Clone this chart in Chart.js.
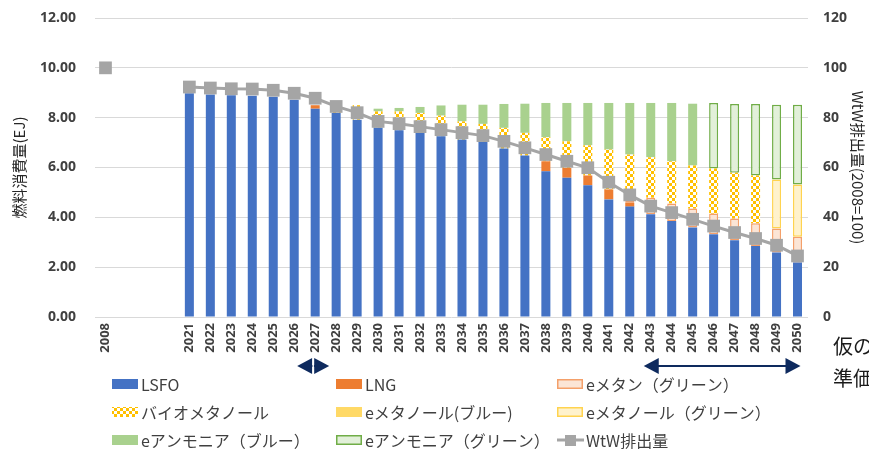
<!DOCTYPE html>
<html>
<head>
<meta charset="utf-8">
<script src="https://cdn.jsdelivr.net/npm/chart.js@4.4.0/dist/chart.umd.min.js"></script>
<style>
  html, body { margin: 0; padding: 0; background: #fff; }
  #wrap { width: 869px; height: 449px; position: relative; }
</style>
</head>
<body>
<div id="wrap"><canvas id="chart" width="869" height="449"></canvas></div>
<script>
// categories (2008, three empty slots, 2021-2050)
const years = ['2008', '', '', '',
  '2021','2022','2023','2024','2025','2026','2027','2028','2029','2030',
  '2031','2032','2033','2034','2035','2036','2037','2038','2039','2040',
  '2041','2042','2043','2044','2045','2046','2047','2048','2049','2050'];

// fuel consumption (EJ), values for 2021-2050
const lsfo = [8.98,8.93,8.90,8.88,8.84,8.72,8.36,8.19,7.92,7.61,7.49,7.39,7.25,7.12,7.02,
  6.76,6.48,5.85,5.59,5.29,4.72,4.43,4.12,3.85,3.59,3.32,3.08,2.85,2.59,2.19];
const lng = [0,0,0,0,0,0,0.14,0,0,0,0,0,0,0,0,
  0,0,0.40,0.40,0.39,0.40,0.16,0,0,0,0,0,0,0,0];
const eMethaneGreen = [0,0,0,0,0,0,0,0,0,0,0,0,0,0,0,
  0,0,0,0,0,0,0.10,0.67,0.71,0.76,0.83,0.87,0.91,0.96,1.03];
const bioMethanol = [0,0,0,0,0,0,0,0.20,0.58,0.64,0.76,0.80,0.83,0.73,0.73,
  0.83,0.91,0.96,1.06,1.21,1.60,1.83,1.62,1.69,1.73,1.81,1.84,1.92,0,0];
const eMethanolBlue = [0,0,0,0,0,0,0,0,0,0,0,0,0,0,0,
  0,0,0,0,0,0,0,0,0,0,0,0,0,0,0];
const eMethanolGreen = [0,0,0,0,0,0,0,0,0,0,0,0,0,0,0,
  0,0,0,0,0,0,0,0,0,0,0,0,0,1.97,2.10];
const eAmmoniaBlue = [0,0,0,0,0,0,0,0,0,0.11,0.14,0.24,0.41,0.67,0.77,
  0.96,1.17,1.38,1.54,1.70,1.87,2.07,2.18,2.34,2.48,0,0,0,0,0];
const eAmmoniaGreen = [0,0,0,0,0,0,0,0,0,0,0,0,0,0,0,
  0,0,0,0,0,0,0,0,0,0,2.63,2.76,2.87,3.00,3.20];

// WtW emissions (2008=100)
const wtw2008 = 100;
const wtw = [92.3,91.9,91.6,91.5,91.0,89.8,87.8,84.5,82.0,78.5,77.6,76.4,75.2,74.0,72.8,
  70.5,67.9,65.2,62.5,59.9,54.1,49.0,44.5,41.9,39.2,36.5,33.9,31.5,28.8,24.5];

const leftTicks = [0, 2, 4, 6, 8, 10, 12];
const rightTicks = [0, 20, 40, 60, 80, 100, 120];

// pad the 2021-2050 series to the full category list
const bars = arr => [null, null, null, null].concat(arr.map(v => v || null));

// yellow / white checker for the bio-methanol segments
function checker() {
  const c = document.createElement('canvas');
  c.width = 6; c.height = 6;
  const g = c.getContext('2d');
  g.fillStyle = '#ffffff';
  g.fillRect(0, 0, 6, 6);
  g.fillStyle = '#FFC000';
  g.fillRect(0, 0, 3, 3);
  g.fillRect(3, 3, 3, 3);
  return document.getElementById('chart').getContext('2d').createPattern(c, 'repeat');
}
const checkPattern = checker();

const series = [
  { label: 'LSFO', data: lsfo, bg: '#4472C4', bd: '#4472C4', bw: 0 },
  { label: 'LNG', data: lng, bg: '#ED7D31', bd: '#ED7D31', bw: 0 },
  { label: 'eメタン（グリーン）', data: eMethaneGreen, bg: '#FBE5D6', bd: '#F4A06A', bw: 1.5 },
  { label: 'バイオメタノール', data: bioMethanol, bg: checkPattern, bd: '#FFC000', bw: 0 },
  { label: 'eメタノール(ブルー)', data: eMethanolBlue, bg: '#FFD966', bd: '#FFD966', bw: 0 },
  { label: 'eメタノール（グリーン）', data: eMethanolGreen, bg: '#FFF2CC', bd: '#FFD34F', bw: 1.5 },
  { label: 'eアンモニア（ブルー）', data: eAmmoniaBlue, bg: '#A9D18E', bd: '#A9D18E', bw: 0 },
  { label: 'eアンモニア（グリーン）', data: eAmmoniaGreen, bg: '#E2F0D9', bd: '#70AD47', bw: 1.5 }
];

const datasets = series.map(s => ({
  type: 'bar',
  label: s.label,
  data: bars(s.data),
  backgroundColor: s.bg,
  borderColor: s.bd,
  borderWidth: s.bw,
  borderSkipped: false,
  yAxisID: 'y',
  stack: 'fuel',
  order: 1,
  barPercentage: 0.43,
  categoryPercentage: 1.0
}));

datasets.push({
  type: 'line',
  label: 'WtW排出量',
  data: [wtw2008, null, null, null].concat(wtw),
  yAxisID: 'y1',
  borderColor: '#A5A5A5',
  backgroundColor: '#A5A5A5',
  borderWidth: 3,
  pointStyle: 'rect',
  pointRadius: 9,
  pointBorderWidth: 0,
  spanGaps: false,
  order: 0
});

const tickColor = '#404040';

// legend, arrows and side note
const extras = {
  id: 'extras',
  afterDraw(chart) {
    const ctx = chart.ctx;
    ctx.save();
    const cols = [112, 336, 557];
    const rows = [384, 412, 440];
    const items = series.map(s => ({ label: s.label, bg: s.bg, bd: s.bd, bw: s.bw }));
    items.push({ label: 'WtW排出量', line: true });
    ctx.font = '16px "Noto Sans CJK JP"';
    ctx.textBaseline = 'middle';
    items.forEach((it, i) => {
      const x = cols[i % 3], y = rows[Math.floor(i / 3)];
      if (it.line) {
        ctx.strokeStyle = '#A5A5A5';
        ctx.lineWidth = 3;
        ctx.beginPath(); ctx.moveTo(x, y); ctx.lineTo(x + 27, y); ctx.stroke();
        ctx.fillStyle = '#A5A5A5';
        ctx.fillRect(x + 8, y - 5, 11, 11);
      } else {
        ctx.fillStyle = it.bg;
        ctx.fillRect(x, y - 5, 26, 10);
        if (it.bw) {
          ctx.strokeStyle = it.bd;
          ctx.lineWidth = 1.5;
          ctx.strokeRect(x + 0.75, y - 4.25, 24.5, 8.5);
        }
      }
      ctx.fillStyle = '#404040';
      ctx.fillText(it.label, x + 29, y + 1);
    });

    // double arrows under the axis
    const xs = chart.scales.x;
    const ay = 366;
    ctx.fillStyle = '#0E2A5E';
    ctx.strokeStyle = '#0E2A5E';
    const head = (tip, dir) => {
      ctx.beginPath();
      ctx.moveTo(tip, ay);
      ctx.lineTo(tip + dir * 15, ay - 8);
      ctx.lineTo(tip + dir * 15, ay + 8);
      ctx.closePath();
      ctx.fill();
    };
    const c1 = xs.getPixelForValue(10) - 2;
    head(c1 - 16, 1);
    head(c1 + 16, -1);
    ctx.lineWidth = 2;
    ctx.beginPath(); ctx.moveTo(c1 - 2, ay); ctx.lineTo(c1 + 2, ay); ctx.stroke();
    ctx.strokeStyle = '#ffffff';
    ctx.lineWidth = 1.5;
    ctx.beginPath(); ctx.moveTo(c1, ay - 9); ctx.lineTo(c1, ay + 9); ctx.stroke();

    const l2 = xs.getPixelForValue(26) - 7, r2 = xs.getPixelForValue(33) + 3;
    ctx.strokeStyle = '#0E2A5E';
    ctx.lineWidth = 2;
    ctx.beginPath(); ctx.moveTo(l2 + 10, ay); ctx.lineTo(r2 - 10, ay); ctx.stroke();
    head(l2, 1);
    head(r2, -1);

    // clipped side note
    ctx.fillStyle = '#1a1a1a';
    ctx.font = '20px "Noto Sans CJK JP"';
    ctx.textBaseline = 'middle';
    ctx.fillText('仮の', 833, 346);
    ctx.fillText('準価', 833, 378);
    ctx.restore();
  }
};

// fixed box sizes so the plot area lands where the original one is
const fixY = w => s => { s.width = w; s.paddingTop = 0; s.paddingBottom = 0; };

new Chart(document.getElementById('chart'), {
  data: { labels: years, datasets: datasets },
  plugins: [extras],
  options: {
    responsive: false,
    animation: false,
    layout: { autoPadding: false, padding: { top: 18, bottom: 0, left: 0, right: 0 } },
    plugins: { legend: { display: false }, tooltip: { enabled: false } },
    scales: {
      x: {
        stacked: true,
        offset: true,
        grid: { display: false, drawTicks: false },
        border: { display: false },
        ticks: {
          autoSkip: false, maxRotation: 90, minRotation: 90, padding: 6,
          color: tickColor, font: { family: 'Noto Sans', size: 13, weight: 'bold' }
        },
        afterFit: s => { s.height = 132; s.paddingLeft = 0; s.paddingRight = 0; }
      },
      y: {
        position: 'left',
        stacked: true,
        min: 0, max: 12,
        afterBuildTicks: s => { s.ticks = leftTicks.map(v => ({ value: v })); },
        grid: { color: '#D9D9D9', lineWidth: 1, drawTicks: false },
        border: { display: false },
        ticks: {
          padding: 19, color: tickColor,
          font: { family: 'Noto Sans', size: 14, weight: 'bold' },
          callback: v => v.toFixed(2)
        },
        title: {
          display: true, text: '燃料消費量(EJ)', color: '#262626',
          font: { family: 'Noto Sans CJK JP', size: 15 }, padding: { top: 10, bottom: 0 }
        },
        afterFit: fixY(95)
      },
      y1: {
        position: 'right',
        min: 0, max: 120,
        afterBuildTicks: s => { s.ticks = rightTicks.map(v => ({ value: v })); },
        grid: { display: false, drawTicks: false },
        border: { display: false },
        ticks: {
          padding: 15, color: tickColor,
          font: { family: 'Noto Sans', size: 14, weight: 'bold' }
        },
        title: {
          display: true, text: 'WtW排出量(2008=100)', color: '#262626',
          font: { family: 'Noto Sans CJK JP', size: 15 }, padding: { top: 2, bottom: 0 }
        },
        afterFit: fixY(61)
      }
    }
  }
});
</script>
</body>
</html>
